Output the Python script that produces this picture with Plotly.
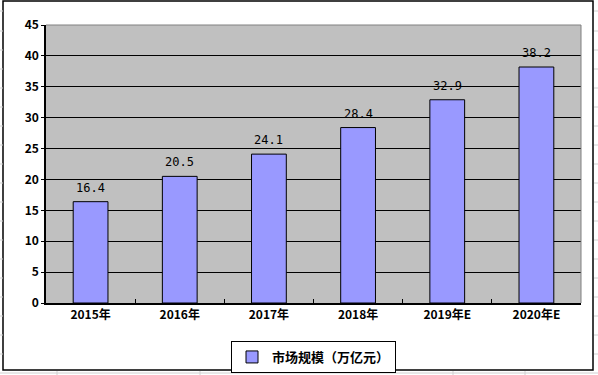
import plotly.graph_objects as go

categories = ["2015年", "2016年", "2017年", "2018年", "2019年E", "2020年E"]
values = [16.4, 20.5, 24.1, 28.4, 32.9, 38.2]
value_labels = ["16.4", "20.5", "24.1", "28.4", "32.9", "38.2"]
series_name = "市场规模（万亿元）"
y_ticks = [0, 5, 10, 15, 20, 25, 30, 35, 40, 45]

font_family = "Noto Sans CJK SC, DejaVu Sans, sans-serif"

fig = go.Figure()
fig.add_trace(go.Bar(
    x=categories, y=values, name=series_name,
    marker=dict(color="#9999FF", line=dict(color="black", width=1)),
    hoverinfo="skip",
))
# value labels above bars
for c, v, t in zip(categories, values, value_labels):
    fig.add_annotation(x=c, y=v, text=t, showarrow=False, yanchor="bottom", yshift=5,
                       font=dict(family="DejaVu Sans Mono, monospace", size=12, color="black"))

L, R, T, B = 46, 17, 25, 72
W, H = 598, 375
pw, ph = W - L - R, H - T - B

def px_x(x):
    return (x - L) / pw

def px_y(y):
    return (H - B - y) / ph

shapes = []
grey = "#D0D0D0"
for yy in [11, 31, 50, 69, 88, 107, 126, 145, 164, 183, 202, 221, 240, 259, 278, 297, 316, 335, 354]:
    shapes.append(dict(type="line", xref="paper", yref="paper",
                       x0=px_x(0), x1=px_x(3), y0=px_y(yy), y1=px_y(yy),
                       line=dict(color=grey, width=1)))
    shapes.append(dict(type="line", xref="paper", yref="paper",
                       x0=px_x(594), x1=px_x(598), y0=px_y(yy), y1=px_y(yy),
                       line=dict(color=grey, width=1)))
shapes.append(dict(type="line", xref="paper", yref="paper",
                   x0=px_x(0), x1=px_x(598), y0=px_y(373), y1=px_y(373),
                   line=dict(color=grey, width=1)))
for xx in [57, 200, 453, 525]:
    shapes.append(dict(type="line", xref="paper", yref="paper",
                       x0=px_x(xx), x1=px_x(xx), y0=px_y(371), y1=px_y(375),
                       line=dict(color=grey, width=1)))
shapes.append(dict(type="rect", xref="paper", yref="paper",
                   x0=px_x(3), x1=px_x(593), y0=px_y(370), y1=px_y(1),
                   line=dict(color="black", width=1.5), layer="below"))
shapes.append(dict(type="line", xref="paper", yref="paper",
                   x0=0, x1=1, y0=1, y1=1, line=dict(color="#808080", width=1)))
shapes.append(dict(type="line", xref="paper", yref="paper",
                   x0=1, x1=1, y0=0, y1=1, line=dict(color="#808080", width=1)))

fig.update_layout(
    width=W, height=H,
    margin=dict(l=L, r=R, t=T, b=B, autoexpand=False),
    paper_bgcolor="white", plot_bgcolor="#C0C0C0",
    bargap=0.61,
    showlegend=True,
    legend=dict(orientation="h", x=0.5, xanchor="center", y=px_y(341), yanchor="top",
                bordercolor="black", borderwidth=1, bgcolor="white",
                font=dict(family=font_family, size=13, color="black", weight="bold"),
                itemwidth=30),
    font=dict(family=font_family, color="black"),
    shapes=shapes,
    xaxis=dict(showline=True, linecolor="black", linewidth=1.5,
               ticks="inside", ticklen=4, tickcolor="black", tickson="boundaries",
               tickfont=dict(family=font_family, size=12, color="black", weight="bold"),
               showgrid=False),
    yaxis=dict(range=[0, 45], tickvals=y_ticks, showline=True, linecolor="black", linewidth=1.5,
               ticks="outside", ticklen=3, tickcolor="black",
               showgrid=True, gridcolor="black", gridwidth=1, zeroline=False,
               tickfont=dict(family=font_family, size=12, color="black", weight="bold")),
)

fig.write_html("out.html", config={"displayModeBar": False},
               post_script="document.body.style.margin='0';document.body.style.overflow='hidden';")
